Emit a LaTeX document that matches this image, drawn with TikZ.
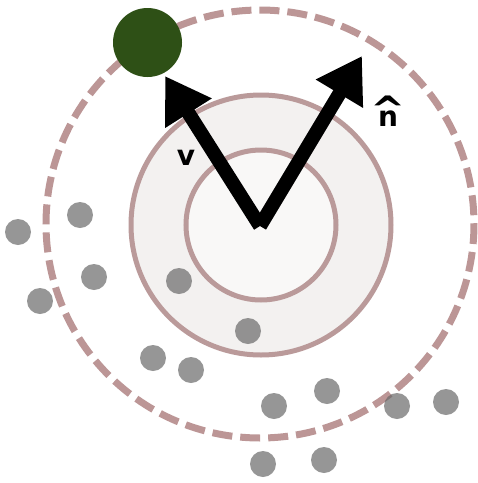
\documentclass[tikz,border=0pt]{standalone}
\usepackage{fontspec}
\setmainfont{DejaVu Sans}
\usetikzlibrary{arrows.meta}
\definecolor{ringc}{RGB}{186,154,154}
\definecolor{dashc}{RGB}{188,150,150}
\definecolor{diskA}{RGB}{243,241,240}
\definecolor{diskB}{RGB}{249,248,247}
\definecolor{greenc}{RGB}{46,80,22}
\definecolor{dotc}{RGB}{105,105,105}
\newcommand{\bighatn}{\ooalign{n\cr\hidewidth\raisebox{4pt}{\scalebox{1.5}[1.3]{\^{}}}\hidewidth\cr}}
\tikzset{
  ring/.style={draw=ringc, line width=5pt},
  dashring/.style={draw=dashc, line width=7pt, dash pattern=on 20pt off 8pt},
  particle/.style={circle, fill=dotc, fill opacity=0.7, minimum size=26pt, inner sep=0pt},
  vec/.style={line width=14pt, -{Triangle[length=44pt,width=52pt]}},
  lbl/.style={font=\bfseries\fontsize{28}{30}\selectfont}
}
\begin{document}
\begin{tikzpicture}[x=1pt,y=-1pt]
\useasboundingbox (0,0) rectangle (478,483);
% rings
\fill[diskA] (261,225) circle (130);
\draw[ring] (261,225) circle (130);
\fill[diskB] (261,225) circle (75);
\draw[ring] (261,225) circle (75);
\draw[dashring] (260,224) circle (214);
% particles
\foreach \p/\x/\y in {a/18/232, b/80/215, c/94/277, d/40/301, e/179/281, f/248/331, g/153/358, h/191/370, i/274/406, j/327/391, k/397/406, l/446/402, m/263/464, n/324/460}
  \node[particle] (p\p) at (\x,\y) {};
% green body
\node[circle, fill=greenc, minimum size=69pt, inner sep=0pt] (body) at (147.5,42.5) {};
% vectors
\coordinate (o) at (260,226);
\coordinate (vtip) at (165,76);
\coordinate (ntip) at (362,56);
\draw[vec] (o) -- (vtip);
\draw[vec] (o) -- (ntip);
\node[lbl] (vl) at (186,158) {v};
\node[lbl, anchor=base] (nl) at (388,126) {\bighatn};
\end{tikzpicture}
\end{document}
